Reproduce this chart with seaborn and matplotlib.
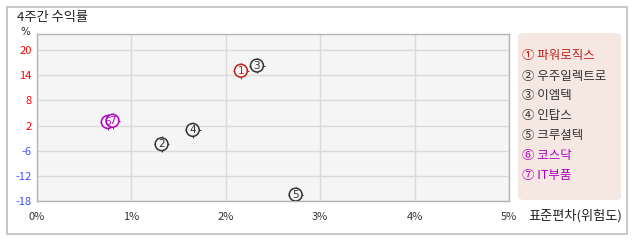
import matplotlib
matplotlib.use("Agg")
import matplotlib.pyplot as plt
import seaborn as sns
import pandas as pd
from matplotlib.patches import FancyBboxPatch, Rectangle

# ---- data ----
names = ["파워로직스", "우주일렉트로", "이엠텍", "인탑스", "크루셜텍", "코스닥", "IT부품"]
marks = ["①", "②", "③", "④", "⑤", "⑥", "⑦"]
digits = ["1", "2", "3", "4", "5", "6", "7"]
std_dev = [2.16, 1.32, 2.33, 1.65, 2.74, 0.75, 0.80]
returns = [14.8, -3.7, 16.1, -0.1, -16.4, 1.9, 2.2]
colors = ["#c0201a", "#333333", "#333333", "#333333", "#333333", "#b000c0", "#b000c0"]
x_ticks = [0, 1, 2, 3, 4, 5]
x_labels = ["0%", "1%", "2%", "3%", "4%", "5%"]
y_labels = ["20", "14", "8", "2", "-6", "-12", "-18"]

sns.set_theme(style="white")
plt.rcParams['font.family'] = ['Noto Sans CJK KR', 'DejaVu Sans']

W, H = 638, 242
fig = plt.figure(figsize=(W / 100, H / 100), dpi=100)

# outer border
fig.patches.append(Rectangle((7 / W, 1 - 234 / H), (627 - 7) / W, (234 - 7) / H,
                             transform=fig.transFigure, fill=False,
                             edgecolor="#bdbdbd", linewidth=1.2))

L, R, T, B = 37, 509, 34, 201
ax = fig.add_axes([L / W, 1 - B / H, (R - L) / W, (B - T) / H])
ax.set_facecolor("#f5f5f5")
for s in ax.spines.values():
    s.set_color("#b4b4b4")
    s.set_linewidth(1.0)

ymin = -18
step = 38 / 6
ytick_pos = [20 - i * step for i in range(7)]
ymax = 20 + 16 * (step / 25)
ax.set_xlim(0, 5)
ax.set_ylim(ymin, ymax)

df = pd.DataFrame({"sd": std_dev, "ret": returns, "name": names})

# crosshair ticks
sns.scatterplot(data=df, x="sd", y="ret", hue="name", palette=colors, marker="+",
                s=125, linewidth=0.8, legend=False, ax=ax, zorder=3)
# circles
sns.scatterplot(data=df, x="sd", y="ret", hue="name", palette=colors, marker="o",
                s=85, legend=False, ax=ax, zorder=4)
for coll in ax.collections[1:]:
    coll.set_facecolor("#f5f5f5")
    coll.set_edgecolor(colors)
    coll.set_linewidth(1.1)
for xv, yv, d, c in zip(std_dev, returns, digits, colors):
    ax.text(xv, yv, d, color=c, fontsize=7.5, ha="center", va="center",
            zorder=5, family="DejaVu Sans")

ax.set_xticks(x_ticks)
ax.set_xticklabels(x_labels)
ax.set_yticks(ytick_pos)
ax.set_yticklabels(y_labels)
ax.grid(True, color="#dadada", linewidth=1.0)
ax.set_axisbelow(True)
ax.tick_params(axis="both", length=0, labelsize=8, colors="#333333")
ax.tick_params(axis="x", pad=8)
ax.tick_params(axis="y", pad=4)
for lbl in ax.get_yticklabels():
    t = lbl.get_text()
    lbl.set_color("#ff0000" if not t.startswith("-") else "#3a4fff")
ax.set_xlabel("")
ax.set_ylabel("")

fig.text(17 / W, 1 - 17 / H, "4주간 수익률", fontsize=9.5, color="#222222",
         ha="left", va="center")
fig.text(25 / W, 1 - 32 / H, "%", fontsize=7.5, color="#222222",
         ha="center", va="center", family="DejaVu Sans")
fig.text(528 / W, 1 - 216 / H, "표준편차(위험도)", fontsize=9.5, color="#222222",
         ha="left", va="center")

# legend box
fig.patches.append(FancyBboxPatch((518 / W, 1 - 200 / H), (621 - 518) / W, (200 - 33) / H,
                                  boxstyle="round,pad=0,rounding_size=0.012",
                                  transform=fig.transFigure, facecolor="#f5e8e2",
                                  edgecolor="none"))
for i, (m, n, c) in enumerate(zip(marks, names, colors)):
    fig.text(522 / W, 1 - (56 + 20 * i) / H, f"{m} {n}", fontsize=9, color=c,
             ha="left", va="center")

fig.savefig("out.png", dpi=100)
